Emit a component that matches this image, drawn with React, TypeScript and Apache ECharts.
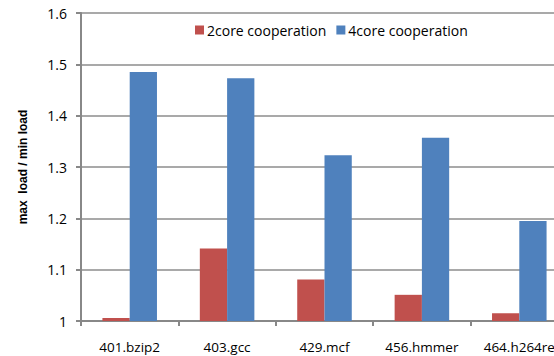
import React, { useEffect, useRef } from "react";
import * as echarts from "echarts";

const categories = ["401.bzip2", "403.gcc", "429.mcf", "456.hmmer", "464.h264re"];
const series2core = [1.006, 1.141, 1.081, 1.051, 1.015];
const series4core = [1.485, 1.473, 1.323, 1.357, 1.195];
const seriesNames = ["2core cooperation", "4core cooperation"];
const yTicks = { min: 1, max: 1.6, interval: 0.1 };

export default function App() {
  const ref = useRef<HTMLDivElement>(null);
  useEffect(() => {
    if (!ref.current) return;
    const chart = echarts.init(ref.current, null, { renderer: "svg" });
    const font = "'Open Sans', 'Noto Sans', sans-serif";
    chart.setOption({
      animation: false,
      backgroundColor: "#ffffff",
      grid: { left: 81, top: 13, width: 487, height: 308, containLabel: false, outerBoundsMode: "none" },
      legend: {
        data: seriesNames,
        left: 190,
        top: 18,
        itemWidth: 9,
        itemHeight: 9,
        itemGap: 10,
        icon: "rect",
        textStyle: { fontFamily: font, fontSize: 14, color: "#000", padding: [0, 0, 0, -2] },
      },
      xAxis: {
        type: "category",
        data: categories,
        axisLine: { lineStyle: { color: "#888888", width: 2 } },
        axisTick: { show: true, length: 5, lineStyle: { color: "#888888", width: 2 } },
        axisLabel: { margin: 19, fontFamily: font, fontSize: 13.5, color: "#000", hideOverlap: false },
      },
      yAxis: {
        type: "value",
        min: yTicks.min,
        max: yTicks.max,
        interval: yTicks.interval,
        name: "max  load / min load",
        nameLocation: "middle",
        nameGap: 52,
        nameTextStyle: { fontFamily: "'Liberation Sans', Arial, sans-serif", fontWeight: "bold", fontSize: 12, color: "#000" },
        axisLine: { show: true, lineStyle: { color: "#888888", width: 2 } },
        axisTick: { show: true, length: 5, lineStyle: { color: "#888888", width: 2 } },
        axisLabel: {
          margin: 14,
          fontFamily: font,
          fontSize: 14,
          color: "#000",
          formatter: (v: number) => (Math.abs(v - 1) < 1e-9 ? "1" : v.toFixed(1)),
        },
        splitLine: { lineStyle: { color: "#8c8c8c", width: 1.5 } },
      },
      series: [
        {
          name: seriesNames[0],
          type: "bar",
          data: series2core,
          barWidth: "28%",
          barGap: "0%",
          itemStyle: { color: "#C0504D" },
        },
        {
          name: seriesNames[1],
          type: "bar",
          data: series4core,
          barWidth: "28%",
          barGap: "0%",
          itemStyle: { color: "#4F81BD" },
        },
      ],
    });
    return () => chart.dispose();
  }, []);
  return <div ref={ref} style={{ width: 554, height: 356, position: "absolute", left: 0, top: 0 }} />;
}
